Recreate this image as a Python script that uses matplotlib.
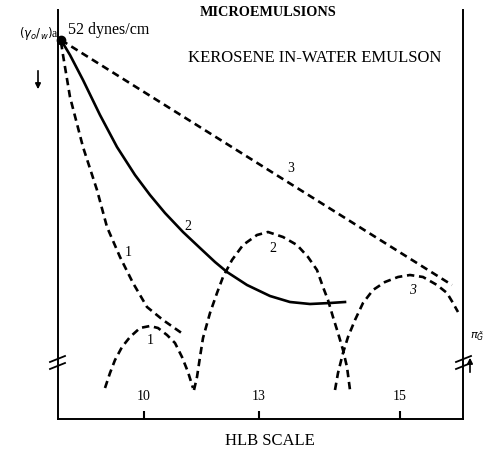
import matplotlib
matplotlib.use("Agg")
import matplotlib.pyplot as plt

# chart units: x to the right of the left axis, y up from the HLB axis
hlb_ticks = [86, 201, 342]
hlb_labels = ["10", "13", "15"]

origin = (3, 379)

# curve 3, straight dashed line
line3_x = [3, 394]
line3_y = [379, 134]

# curve 2, solid
solid2_x = [3, 12, 25, 42, 59, 77, 92, 107, 125, 142, 157, 169, 189, 212, 232, 252, 272, 287]
solid2_y = [379, 364, 339, 304, 272, 244, 224, 206, 187, 171, 157, 147, 134, 123, 117, 115, 116, 117]

# curve 1, falling dashed
fall1_x = [3, 5, 12, 25, 39, 49, 62, 75, 89, 105, 125]
fall1_y = [377, 364, 322, 272, 229, 192, 162, 136, 112, 99, 85]

# arches (pi_G side)
arch1_x = [47, 52, 57, 64, 72, 82, 92, 100, 109, 117, 124, 130, 135]
arch1_y = [31, 46, 59, 72, 82, 91, 93, 91, 84, 76, 62, 47, 31]

arch2_x = [136, 139, 142, 145, 152, 159, 165, 174, 185, 199, 210, 225, 239, 250, 259,
           265, 270, 275, 280, 285, 289, 292]
arch2_y = [29, 42, 62, 81, 106, 126, 142, 159, 174, 184, 187, 182, 174, 162, 149,
           132, 119, 102, 86, 69, 52, 29]

arch3_x = [277, 280, 285, 290, 297, 305, 315, 327, 340, 352, 365, 379, 389, 395, 400]
arch3_y = [29, 46, 66, 82, 99, 116, 129, 137, 142, 144, 142, 134, 126, 116, 107]

plt.rcParams['font.family'] = "Liberation Serif"

fig = plt.figure(figsize=(4.85, 4.49), dpi=100, facecolor='white')
ax = fig.add_axes([58 / 485, 30 / 449, 405 / 485, 409 / 449])
ax.set_xlim(0, 405)
ax.set_ylim(0, 409)

ax.spines['top'].set_visible(False)
for s in ['left', 'right', 'bottom']:
    ax.spines[s].set_linewidth(1.4)

ax.set_yticks([])
ax.set_xticks(hlb_ticks, labels=hlb_labels)
ax.tick_params(axis='x', direction='in', length=6, width=1.5, pad=-21, labelsize=10)

dash = dict(color='black', lw=1.9, linestyle=(0, (2.8, 1.8)))
ax.plot(line3_x, line3_y, **dash)
ax.plot(fall1_x, fall1_y, **dash)
ax.plot(arch1_x, arch1_y, **dash)
ax.plot(arch2_x, arch2_y, **dash)
ax.plot(arch3_x, arch3_y, **dash)
ax.plot(solid2_x, solid2_y, color='black', lw=1.9)
ax.plot(*origin, 'o', color='black', ms=6, clip_on=False)

# curve labels
ax.text(233, 251, "3", fontsize=10, ha='center', va='center')
ax.text(130, 193, "2", fontsize=10, ha='center', va='center')
ax.text(70, 166, "1", fontsize=10, ha='center', va='center')
ax.text(92, 79, "1", fontsize=10, ha='center', va='center')
ax.text(215, 171, "2", fontsize=10, ha='center', va='center')
ax.text(355, 129, "3", fontsize=10, ha='center', va='center', style='italic')

# titles
ax.text(210, 406, "MICROEMULSIONS", fontsize=10.3, fontweight='bold', ha='center', va='center')
ax.text(130, 361, "KEROSENE IN-WATER EMULSON", fontsize=12, ha='left', va='center')
ax.text(10, 389, "52 dynes/cm", fontsize=11.5, ha='left', va='center')
ax.text(1, 386, r"$(\gamma_o/_w)$a", fontsize=8.5, ha='right', va='center', clip_on=False)
ax.text(419, 82, r"$\pi_{\tilde{G}}$", fontsize=8, ha='center', va='center', clip_on=False)
ax.text(212, -22, "HLB SCALE", fontsize=12, ha='center', va='center', clip_on=False)

# arrows
ax.annotate("", xy=(-20, 327), xytext=(-20, 351), annotation_clip=False,
            arrowprops=dict(arrowstyle='-|>', color='black', lw=1.2, mutation_scale=8))
ax.annotate("", xy=(412, 64), xytext=(412, 44), annotation_clip=False,
            arrowprops=dict(arrowstyle='-|>', color='black', lw=1.2, mutation_scale=8))

# axis breaks
for yb in [53, 60]:
    ax.plot([-8, 7], [yb - 3, yb + 3], color='black', lw=1.3, clip_on=False)
    ax.plot([398, 413], [yb - 3, yb + 3], color='black', lw=1.3, clip_on=False)

fig.savefig("out.png", dpi=100)
